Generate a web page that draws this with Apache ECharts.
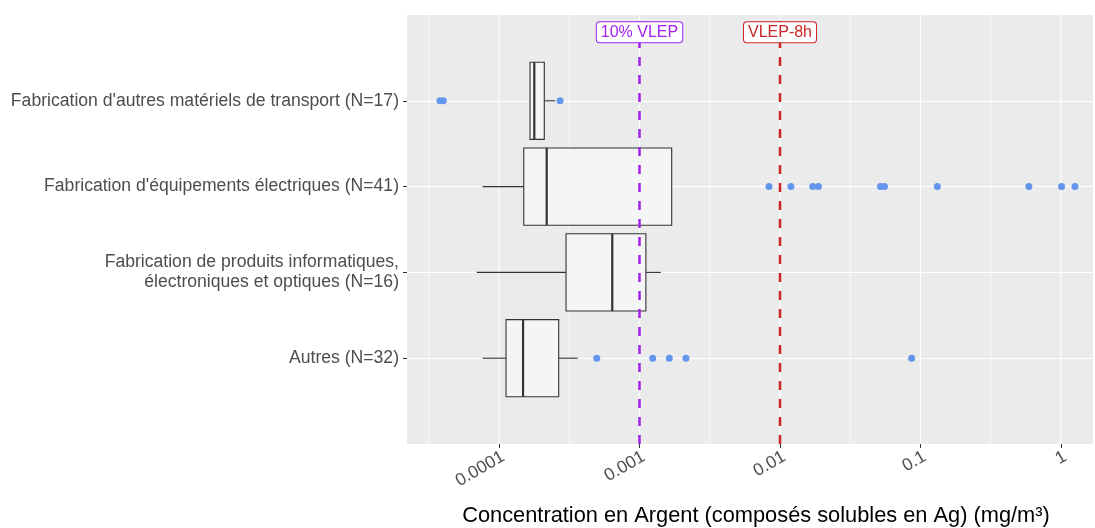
<!DOCTYPE html>
<html><head><meta charset="utf-8">
<script src="https://cdn.jsdelivr.net/npm/echarts@6/dist/echarts.min.js"></script>
<style>html,body{margin:0;padding:0;background:#fff}#c{width:1095px;height:528px}</style>
</head><body><div id="c"></div>
<script>
// ---- data (top to bottom) ----
const categories = [
  "Fabrication d'autres matériels de transport (N=17)",
  "Fabrication d'équipements électriques (N=41)",
  "Fabrication de produits informatiques,\nélectroniques et optiques (N=16)",
  "Autres (N=32)"
];
const whiskerLow  = [1.662e-4, 7.65e-5, 6.94e-5, 7.65e-5];
const q1          = [1.662e-4, 1.50e-4, 3.00e-4, 1.122e-4];
const median      = [1.783e-4, 2.185e-4, 6.40e-4, 1.483e-4];
const q3          = [2.10e-4, 1.695e-3, 1.11e-3, 2.66e-4];
const whiskerHigh = [2.51e-4, 1.695e-3, 1.42e-3, 3.63e-4];
const outliers = [
  [3.80e-5, 4.01e-5, 2.72e-4],
  [8.35e-3, 0.01196, 0.0171, 0.01876, 0.0519, 0.0554, 0.1318, 0.591, 1.01, 1.258],
  [],
  [4.96e-4, 1.241e-3, 1.63e-3, 2.14e-3, 0.0865]
];
const refValues = [0.001, 0.01];
const refLabels = ['10% VLEP', 'VLEP-8h'];
const xTickValues = [0.0001, 0.001, 0.01, 0.1, 1];
const xTickLabels = ['0.0001', '0.001', '0.01', '0.1', '1'];
const xTitle = 'Concentration en Argent (composés solubles en Ag) (mg/m³)';

// ---- layout / style ----
const FONT = '"Liberation Sans", Arial, Helvetica, sans-serif';
const refColors = ['#A020F0', '#CD2626'];
const xMin = Math.pow(10, -4.655);
const xMax = Math.pow(10, 0.228);
const yMax = 5;
const n = categories.length;
const yOf = i => n - i;

const boxData = categories.map((c, i) => [yOf(i), whiskerLow[i], q1[i], median[i], q3[i], whiskerHigh[i]]);
const outlierData = [];
outliers.forEach((arr, i) => arr.forEach(v => outlierData.push([v, yOf(i)])));
const majorGrid = xTickValues.map(v => [v, 0]);
const minorGrid = xTickValues.map(v => [v / Math.sqrt(10), 0]);

function gridRenderer(width) {
  return function (params, api) {
    const a = api.coord([api.value(0), 0]);
    const b = api.coord([api.value(0), yMax]);
    return { type: 'line', silent: true,
      shape: { x1: a[0], y1: a[1], x2: b[0], y2: b[1] },
      style: { stroke: '#FFFFFF', lineWidth: width } };
  };
}

const chart = echarts.init(document.getElementById('c'), null, { renderer: 'canvas' });
chart.setOption({
  animation: false,
  textStyle: { fontFamily: FONT },
  grid: { left: 407, right: 2, top: 15, bottom: 84, show: true, backgroundColor: '#EBEBEB', borderWidth: 0,
          containLabel: false, outerBoundsMode: 'none' },
  xAxis: {
    type: 'log', logBase: 10, min: xMin, max: xMax,
    axisLine: { show: false },
    axisTick: { show: true, length: 4, customValues: xTickValues, lineStyle: { color: '#333333', width: 1 } },
    axisLabel: {
      customValues: xTickValues, rotate: 30, margin: 14, color: '#4D4D4D', fontSize: 17.5, fontFamily: FONT,
      padding: [0, -5, 0, 0],
      formatter: v => {
        let best = 0, bd = Infinity;
        xTickValues.forEach((t, k) => { const d = Math.abs(Math.log10(t) - Math.log10(v)); if (d < bd) { bd = d; best = k; } });
        return xTickLabels[best];
      }
    },
    splitLine: { show: false }, minorSplitLine: { show: false },
    name: xTitle, nameLocation: 'middle', nameGap: 61,
    nameTextStyle: { color: '#000000', fontSize: 21.8, fontFamily: FONT, padding: [0, 0, 0, 12] }
  },
  yAxis: {
    type: 'value', min: 0, max: yMax, interval: 1,
    axisLine: { show: false },
    axisTick: { show: true, length: 4, customValues: [1, 2, 3, 4], lineStyle: { color: '#333333', width: 1 } },
    axisLabel: {
      customValues: [1, 2, 3, 4], color: '#4D4D4D', fontSize: 17.6, lineHeight: 20, margin: 8, fontFamily: FONT,
      formatter: v => categories[n - Math.round(v)]
    },
    splitLine: { show: true, lineStyle: { color: '#FFFFFF', width: 1.1 } }
  },
  series: [
    { type: 'custom', name: 'minorGrid', z: 1, silent: true, data: minorGrid, encode: { x: 0, y: 1 }, renderItem: gridRenderer(0.6) },
    { type: 'custom', name: 'majorGrid', z: 1, silent: true, data: majorGrid, encode: { x: 0, y: 1 }, renderItem: gridRenderer(1.1) },
    {
      type: 'custom', name: 'boxes', z: 3, data: boxData,
      encode: { y: 0, x: [1, 2, 3, 4, 5] },
      renderItem: function (params, api) {
        const y = api.value(0), half = 0.45;
        const wl = api.coord([api.value(1), y]);
        const b1 = api.coord([api.value(2), y]);
        const md = api.coord([api.value(3), y]);
        const b3 = api.coord([api.value(4), y]);
        const wh = api.coord([api.value(5), y]);
        const top = api.coord([api.value(2), y + half])[1];
        const bot = api.coord([api.value(2), y - half])[1];
        const stroke = '#333333';
        const children = [];
        if (b1[0] - wl[0] > 0.5) children.push({ type: 'line', shape: { x1: wl[0], y1: wl[1], x2: b1[0], y2: b1[1] }, style: { stroke, lineWidth: 1.1 } });
        if (wh[0] - b3[0] > 0.5) children.push({ type: 'line', shape: { x1: b3[0], y1: b3[1], x2: wh[0], y2: wh[1] }, style: { stroke, lineWidth: 1.1 } });
        children.push({ type: 'rect', shape: { x: b1[0], y: top, width: b3[0] - b1[0], height: bot - top }, style: { fill: '#F5F5F5', stroke, lineWidth: 1.1 } });
        children.push({ type: 'line', shape: { x1: md[0], y1: top, x2: md[0], y2: bot }, style: { stroke, lineWidth: 2.2 } });
        return { type: 'group', children };
      }
    },
    {
      type: 'scatter', name: 'outliers', z: 4, data: outlierData, symbol: 'circle', symbolSize: 7,
      itemStyle: { color: '#6495ED', opacity: 1 }
    },
    {
      type: 'custom', name: 'refs', z: 5, data: refValues.map((v, i) => [v, i]),
      encode: { x: 0, y: 1 },
      renderItem: function (params, api) {
        const v = api.value(0), i = params.dataIndex;
        const a = api.coord([v, 0]);
        const b = api.coord([v, yMax]);
        const lp = api.coord([v, 4.8]);
        const col = refColors[i];
        return {
          type: 'group', children: [
            { type: 'line', shape: { x1: a[0], y1: a[1], x2: b[0], y2: b[1] }, style: { stroke: col, lineWidth: 2.5, lineDash: [9, 9] } },
            { type: 'text', x: lp[0], y: lp[1], style: {
                text: refLabels[i], fill: col, font: '16px ' + FONT, align: 'center', verticalAlign: 'middle',
                backgroundColor: '#FFFFFF', borderColor: col, borderWidth: 1, borderRadius: 3, padding: [2, 4] } }
          ]
        };
      }
    }
  ]
});
</script></body></html>
